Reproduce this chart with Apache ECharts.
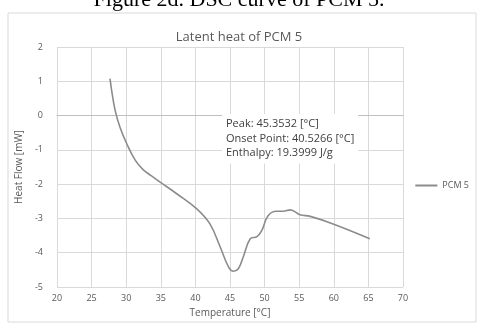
<!DOCTYPE html>
<html><head><meta charset="utf-8">
<script src="https://cdn.jsdelivr.net/npm/echarts@6/dist/echarts.min.js"></script>
<style>html,body{margin:0;padding:0;background:#fff}#c{width:478px;height:327px}</style>
</head><body><div id="c"></div>
<script>
const temperature = [27.66,27.9,28.4,29.1,30.1,31.3,32.4,33.6,34.9,37.3,40.2,42.1,43.6,44.8,45.5,46.2,46.9,47.9,48.9,49.6,50.5,51.7,52.7,53.7,55.1,56.6,59.9,65.2];
const heatFlow    = [1.08,0.73,0.15,-0.34,-0.83,-1.30,-1.57,-1.75,-1.94,-2.28,-2.72,-3.16,-3.84,-4.42,-4.54,-4.47,-4.13,-3.60,-3.53,-3.35,-2.92,-2.79,-2.79,-2.75,-2.89,-2.94,-3.16,-3.59];
const seriesName = 'PCM 5';
const annotationLines = ['Peak: 45.3532 [°C]','Onset Point: 40.5266 [°C]','Enthalpy: 19.3999 J/g'];

const font = 'Open Sans, Liberation Sans, sans-serif';
const chart = echarts.init(document.getElementById('c'), null, {renderer:'canvas'});
chart.setOption({
  animation:false,
  backgroundColor:'#fff',
  title:{text:'Latent heat of PCM 5', left:'center', top:26, textStyle:{fontFamily:font, fontSize:13, fontWeight:'normal', color:'#595959'}},
  legend:{right:4, top:176, orient:'vertical', itemWidth:22, itemHeight:2, icon:'rect', itemGap:4,
    textStyle:{fontFamily:font, fontSize:9, color:'#595959'}, data:[seriesName]},
  grid:{left:57, right:75, top:47, bottom:40},
  xAxis:{type:'value', min:20, max:70, interval:5, name:'Temperature [°C]', nameLocation:'middle', nameGap:21,
    nameTextStyle:{fontFamily:font, fontSize:10, color:'#595959'},
    axisLine:{show:true, lineStyle:{color:'#bfbfbf'}}, axisTick:{show:false},
    axisLabel:{fontFamily:font, fontSize:9, color:'#595959', margin:7},
    splitLine:{show:true, lineStyle:{color:'#d9d9d9'}}},
  yAxis:{type:'value', min:-5, max:2, interval:1, name:'Heat Flow [mW]', nameLocation:'middle', nameGap:24,
    nameTextStyle:{fontFamily:font, fontSize:10, color:'#595959'},
    axisLine:{show:false}, axisTick:{show:false},
    axisLabel:{fontFamily:font, fontSize:9, color:'#595959', margin:14},
    splitLine:{show:true, lineStyle:{color:'#d9d9d9'}}},
  series:[{name:seriesName, type:'line', smooth:0.4, showSymbol:false,
    data:temperature.map((t,i)=>[t,heatFlow[i]]),
    lineStyle:{color:'#8c8c8c', width:1.6}, itemStyle:{color:'#8c8c8c'}}],
  graphic:[
    {type:'rect', shape:{x:8, y:13, width:468, height:309}, style:{fill:'none', stroke:'#d9d9d9', lineWidth:1}, silent:true, z:-1},
    {type:'text', left:'center', top:-11, style:{text:'Figure 2d. DSC curve of PCM 5.', fontFamily:'Liberation Serif, Times New Roman, serif', fontSize:22, fill:'#000'}},
    {type:'text', left:222, top:114, z:100, style:{text:annotationLines.join('\n'), fontFamily:font, fontSize:11, lineHeight:14.5, fill:'#404040', backgroundColor:'#fff', padding:[3,4,3,4]}}
  ]
});
</script></body></html>
